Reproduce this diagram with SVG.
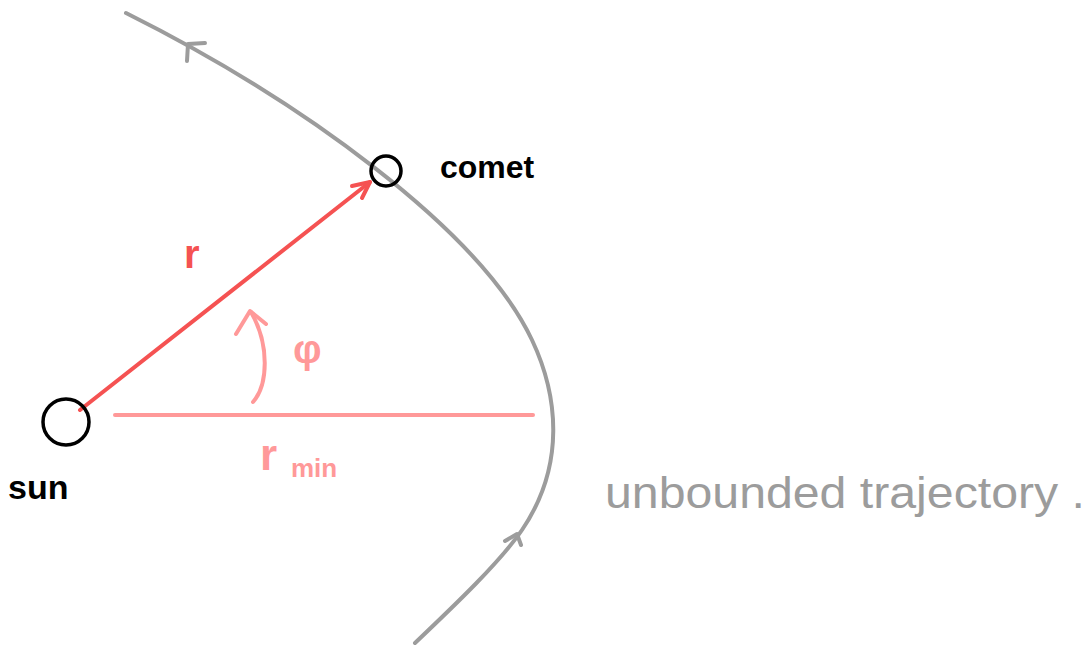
<svg xmlns="http://www.w3.org/2000/svg" width="1089" height="648" viewBox="0 0 1089 648">
<style>
.traj{fill:none;stroke:#9c9c9c;stroke-width:4;stroke-linecap:round;stroke-linejoin:round}
.node{fill:none;stroke:#000;stroke-width:3.5}
.red{fill:none;stroke:#f55252;stroke-width:4;stroke-linecap:round;stroke-linejoin:round}
.pink{fill:none;stroke:#ff9999;stroke-width:4;stroke-linecap:round;stroke-linejoin:round}
.lbl{font-family:"Comic Sans MS","Liberation Sans",sans-serif;font-weight:bold}
</style>
<rect width="1089" height="648" fill="#fff"/>
<g id="connectors">
<g id="trajectory">
<path class="traj" d="M126,13 C300,100 480,230 532,340 C558,395 566,465 522,530 C500,562 455,605 415,643"/>
<path class="traj" d="M187,61 L188,44 L205,43"/>
<path class="traj" d="M505,541 L517,534 L521,545"/>
</g>
<g id="radius">
<path class="red" d="M80,410 L370,182"/>
<path class="red" d="M352,186 L370,182 L362,198"/>
</g>
<g id="rmin-line">
<path class="pink" d="M115,415 L533,415"/>
</g>
<g id="angle">
<path class="pink" d="M253,402 C268,385 270,345 251,312"/>
<path class="pink" d="M236,334 L250,311 L266,324"/>
</g>
</g>
<g id="sun">
<circle class="node" cx="66" cy="422" r="23"/>
<text class="lbl" x="8" y="499" font-size="34" fill="#000">sun</text>
</g>
<g id="comet">
<circle class="node" cx="386" cy="171" r="15"/>
<text class="lbl" x="440" y="178" font-size="32" fill="#000">comet</text>
</g>
<g id="labels">
<text class="lbl" x="184" y="268" font-size="40" fill="#f55252">r</text>
<text class="lbl" x="293" y="363" font-size="40" fill="#ff9999" font-weight="normal">φ</text>
<text class="lbl" x="260" y="470" font-size="44" fill="#ff9999">r</text>
<text class="lbl" x="291" y="477" font-size="26" fill="#ff9999">min</text>
<text x="605" y="508" font-size="44" fill="#9c9c9c" font-family="Liberation Sans, sans-serif" textLength="480" lengthAdjust="spacingAndGlyphs">unbounded  trajectory .</text>
</g>
</svg>
